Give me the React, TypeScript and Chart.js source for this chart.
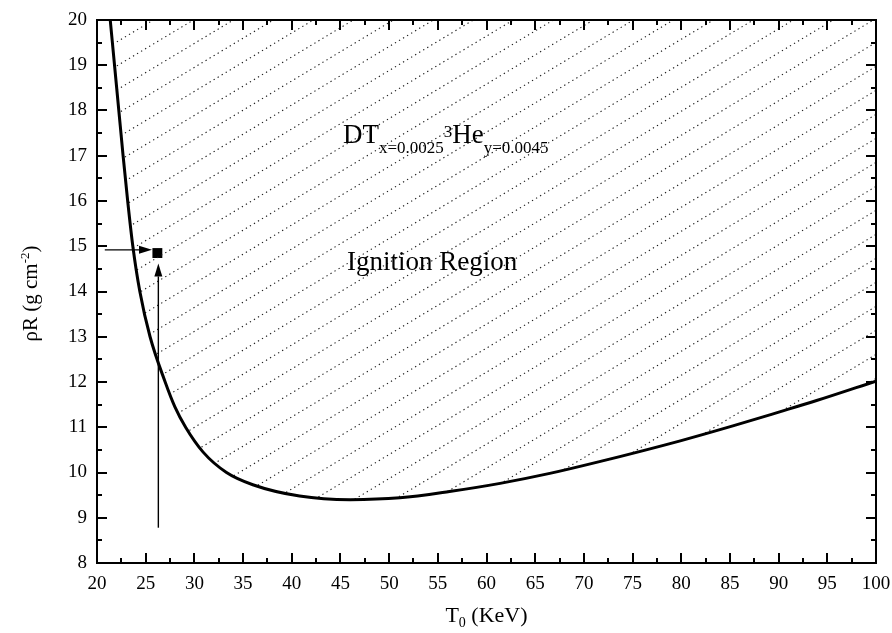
import React, { useEffect, useRef } from "react";
import { Chart, registerables } from "chart.js";

Chart.register(...registerables);

// ---- axis ranges / ticks ----
const X_MIN = 20;
const X_MAX = 100;
const X_STEP = 5;
const Y_MIN = 8;
const Y_MAX = 20;
const Y_STEP = 1;

// ---- ignition boundary curve (T0 in keV, rhoR in g cm^-2) ----
const curveT = [21.36, 21.8, 22.24, 22.68, 23.15, 23.68, 24.4, 25.45, 27.0, 28.0, 29.1, 30.9, 33.3, 36.0, 40.8, 46.0, 51.1, 56.2, 61.4, 66.5, 71.6, 79.9, 85.3, 90.1, 93.9, 100];
const curveRhoR = [20, 19, 18, 17, 16, 15, 14, 13, 12, 11.45, 11.0, 10.45, 10.0, 9.73, 9.48, 9.4, 9.44, 9.58, 9.76, 9.98, 10.24, 10.7, 11.03, 11.34, 11.59, 12.02];

// ---- marked point ----
const markerT = [26.2];
const markerRhoR = [14.85];

// ---- arrows (from -> to) ----
const arrowFromT = [20.8, 26.3];
const arrowFromR = [14.92, 8.78];
const arrowToT = [25.65, 26.3];
const arrowToR = [14.92, 14.62];

// ---- annotations ----
const annoFormulaPos = [45.26, 17.28];
const annoRegionPos = [45.67, 14.47];
const annoRegionText = "Ignition Region";

const SERIF = '"Liberation Serif", "Times New Roman", serif';
const font = (s: number) => `${s}px ${SERIF}`;

type Part = { t: string; size: number; dy?: number };

function drawRich(ctx: CanvasRenderingContext2D, parts: Part[], x: number, y: number, align: "left" | "center") {
  let total = 0;
  const widths: number[] = [];
  for (const p of parts) {
    ctx.font = font(p.size);
    const w = ctx.measureText(p.t).width;
    widths.push(w);
    total += w;
  }
  let cx = align === "center" ? x - total / 2 : x;
  ctx.textAlign = "left";
  ctx.textBaseline = "alphabetic";
  parts.forEach((p, i) => {
    ctx.font = font(p.size);
    ctx.fillText(p.t, cx, y + (p.dy || 0));
    cx += widths[i];
  });
}

function makeHatch(w: number, h: number) {
  const c = document.createElement("canvas");
  c.width = w;
  c.height = h;
  const g = c.getContext("2d")!;
  g.strokeStyle = "#1a1a1a";
  g.lineWidth = 1.1;
  g.setLineDash([1.3, 3.4]);
  const slope = 0.6;
  const spacing = 24;
  for (let b = 16 - spacing * 4; b < h + slope * w + spacing; b += spacing) {
    g.beginPath();
    g.moveTo(0, b);
    g.lineTo(w, b - slope * w);
    g.stroke();
  }
  return g.createPattern(c, "no-repeat");
}

const overlay = {
  id: "overlay",
  afterDatasetsDraw(chart: any) {
    const ctx: CanvasRenderingContext2D = chart.ctx;
    const xs = chart.scales.x;
    const ys = chart.scales.y;
    ctx.save();
    ctx.strokeStyle = "#000";
    ctx.fillStyle = "#000";
    ctx.lineWidth = 1.4;
    for (let i = 0; i < arrowFromT.length; i++) {
      const x1 = xs.getPixelForValue(arrowFromT[i]);
      const y1 = ys.getPixelForValue(arrowFromR[i]);
      const x2 = xs.getPixelForValue(arrowToT[i]);
      const y2 = ys.getPixelForValue(arrowToR[i]);
      const ang = Math.atan2(y2 - y1, x2 - x1);
      const hl = 13;
      const hw = 4;
      const bx = x2 - hl * Math.cos(ang);
      const by = y2 - hl * Math.sin(ang);
      ctx.beginPath();
      ctx.moveTo(x1, y1);
      ctx.lineTo(bx, by);
      ctx.stroke();
      ctx.beginPath();
      ctx.moveTo(x2, y2);
      ctx.lineTo(bx + hw * Math.sin(ang), by - hw * Math.cos(ang));
      ctx.lineTo(bx - hw * Math.sin(ang), by + hw * Math.cos(ang));
      ctx.closePath();
      ctx.fill();
    }
    ctx.restore();
  },
  afterDraw(chart: any) {
    const ctx: CanvasRenderingContext2D = chart.ctx;
    const { left, right, top, bottom } = chart.chartArea;
    const xs = chart.scales.x;
    const ys = chart.scales.y;
    ctx.save();
    ctx.strokeStyle = "#000";
    ctx.fillStyle = "#000";
    ctx.lineWidth = 2;
    ctx.strokeRect(left, top, right - left, bottom - top);
    ctx.beginPath();
    for (let v = X_MIN; v <= X_MAX + 1e-9; v += X_STEP / 2) {
      const major = Math.abs(v / X_STEP - Math.round(v / X_STEP)) < 1e-6;
      const len = major ? 10 : 5;
      const px = Math.round(xs.getPixelForValue(v));
      ctx.moveTo(px, bottom);
      ctx.lineTo(px, bottom - len);
      ctx.moveTo(px, top);
      ctx.lineTo(px, top + len);
    }
    for (let v = Y_MIN; v <= Y_MAX + 1e-9; v += Y_STEP / 2) {
      const major = Math.abs(v / Y_STEP - Math.round(v / Y_STEP)) < 1e-6;
      const len = major ? 10 : 5;
      const py = Math.round(ys.getPixelForValue(v));
      ctx.moveTo(left, py);
      ctx.lineTo(left + len, py);
      ctx.moveTo(right, py);
      ctx.lineTo(right - len, py);
    }
    ctx.stroke();

    // x title
    drawRich(
      ctx,
      [
        { t: "T", size: 22 },
        { t: "0", size: 14, dy: 5 },
        { t: " (KeV)", size: 22 },
      ],
      (left + right) / 2,
      622,
      "center"
    );
    // y title
    ctx.save();
    ctx.translate(37, (top + bottom) / 2 + 2);
    ctx.rotate(-Math.PI / 2);
    drawRich(
      ctx,
      [
        { t: "\u03c1R (g cm", size: 21 },
        { t: "-2", size: 13, dy: -8 },
        { t: ")", size: 21 },
      ],
      0,
      0,
      "center"
    );
    ctx.restore();

    // formula annotation
    drawRich(
      ctx,
      [
        { t: "DT", size: 27 },
        { t: "x=0.0025", size: 17, dy: 10 },
        { t: "3", size: 17, dy: -6 },
        { t: "He", size: 27 },
        { t: "y=0.0045", size: 17, dy: 10 },
      ],
      xs.getPixelForValue(annoFormulaPos[0]),
      ys.getPixelForValue(annoFormulaPos[1]),
      "left"
    );
    drawRich(
      ctx,
      [{ t: annoRegionText, size: 27 }],
      xs.getPixelForValue(annoRegionPos[0]),
      ys.getPixelForValue(annoRegionPos[1]),
      "left"
    );
    ctx.restore();
  },
};

export default function App() {
  const ref = useRef<HTMLCanvasElement | null>(null);
  useEffect(() => {
    const canvas = ref.current!;
    const hatch = makeHatch(892, 633);
    const chart = new Chart(canvas, {
      type: "scatter",
      data: {
        datasets: [
          {
            data: curveT.map((t, i) => ({ x: t, y: curveRhoR[i] })),
            showLine: true,
            borderColor: "#000",
            borderWidth: 3,
            pointRadius: 0,
            cubicInterpolationMode: "monotone",
            fill: "end",
            backgroundColor: hatch as any,
          },
          {
            data: markerT.map((t, i) => ({ x: t, y: markerRhoR[i] })),
            showLine: false,
            pointStyle: "rect",
            pointRadius: 7,
            backgroundColor: "#000",
            borderColor: "#000",
            borderWidth: 0,
          },
        ],
      },
      options: {
        animation: false,
        responsive: true,
        maintainAspectRatio: false,
        events: [],
        layout: { padding: { left: 0, top: 20, right: 16, bottom: 0 } },
        plugins: { legend: { display: false }, tooltip: { enabled: false } },
        scales: {
          x: {
            type: "linear",
            min: X_MIN,
            max: X_MAX,
            ticks: { stepSize: X_STEP, color: "#000", font: { family: SERIF, size: 19 }, padding: 10, maxRotation: 0 },
            grid: { display: false, drawTicks: false },
            border: { display: false },
            afterFit: (s: any) => {
              s.height = 70;
              s.paddingLeft = 0;
              s.paddingRight = 0;
            },
          },
          y: {
            type: "linear",
            min: Y_MIN,
            max: Y_MAX,
            ticks: { stepSize: Y_STEP, color: "#000", font: { family: SERIF, size: 19 }, padding: 10 },
            grid: { display: false, drawTicks: false },
            border: { display: false },
            afterFit: (s: any) => {
              s.width = 97;
              s.paddingTop = 0;
              s.paddingBottom = 0;
            },
          },
        },
      },
      plugins: [overlay],
    });
    return () => chart.destroy();
  }, []);
  return (
    <div style={{ position: "absolute", left: 0, top: 0, width: 892, height: 633, background: "#fff" }}>
      <canvas ref={ref} />
    </div>
  );
}
